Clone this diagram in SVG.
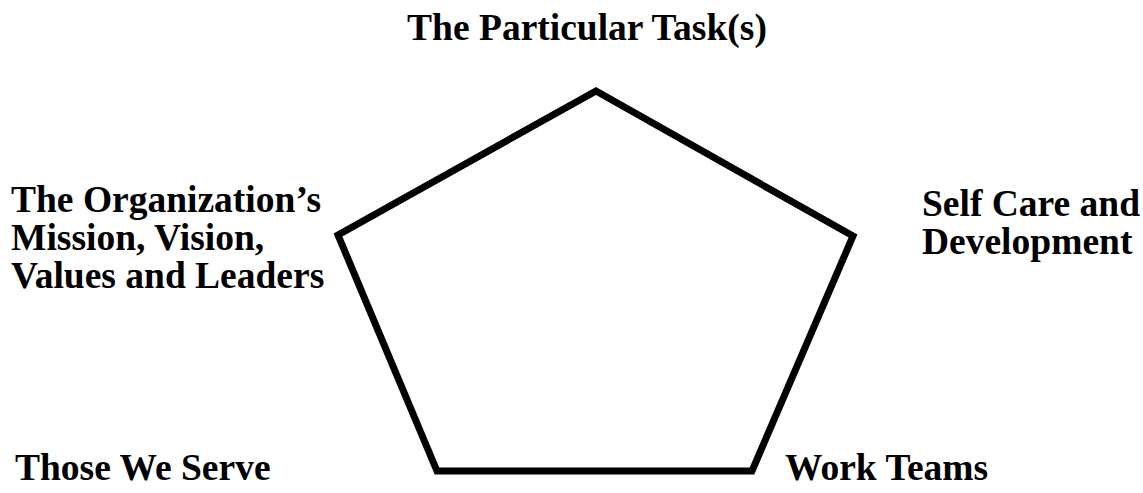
<svg xmlns="http://www.w3.org/2000/svg" width="1143" height="493" viewBox="0 0 1143 493">
<style>
.lbl{font-family:"Liberation Serif","Times New Roman",serif;font-weight:bold;font-size:37.5px;fill:#000}
.shape{fill:none;stroke:#000;stroke-width:7;stroke-linejoin:miter}
</style>
<rect width="1143" height="493" fill="#fff"/>
<g id="pentagon">
<polygon class="shape" points="596,91 853,236 752,471 437,471 338,235"/>
</g>
<g id="connectors"></g>
<g id="top"><text class="lbl" x="587" y="40" text-anchor="middle">The Particular Task(s)</text></g>
<g id="left"><text class="lbl" x="11" y="212">The Organization’s</text><text class="lbl" x="11" y="250">Mission, Vision,</text><text class="lbl" x="11" y="288">Values and Leaders</text></g>
<g id="right"><text class="lbl" x="922" y="216">Self Care and</text><text class="lbl" x="922" y="254">Development</text></g>
<g id="bottomleft"><text class="lbl" x="15" y="480">Those We Serve</text></g>
<g id="bottomright"><text class="lbl" x="785" y="480">Work Teams</text></g>
</svg>
